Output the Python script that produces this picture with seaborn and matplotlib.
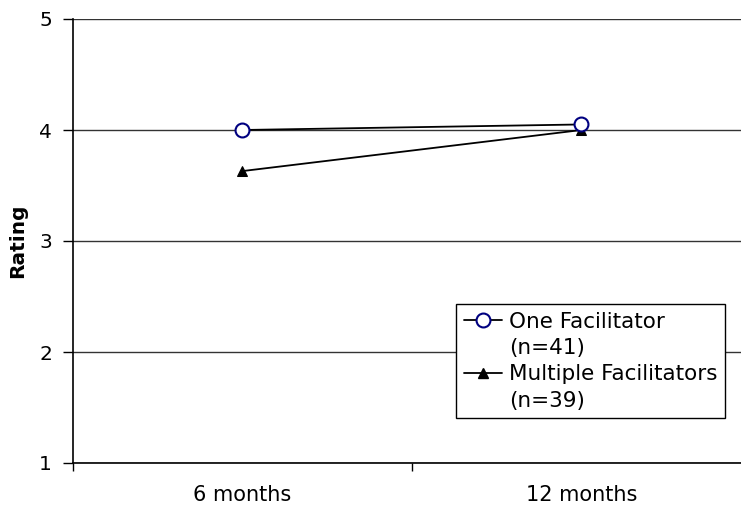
import matplotlib
matplotlib.use("Agg")
import matplotlib.pyplot as plt
from matplotlib.lines import Line2D
import seaborn as sns
import pandas as pd

# Data
timepoints = ["6 months", "12 months"]
one_facilitator = [4.00, 4.05]
multiple_facilitators = [3.63, 4.00]
series_names = ["One Facilitator", "Multiple Facilitators"]
series_n = ["(n=41)", "(n=39)"]
y_ticks = [1, 2, 3, 4, 5]

sns.set_theme(style="white")
plt.rcParams["font.family"] = ["DejaVu Sans"]
plt.rcParams["text.color"] = "black"
plt.rcParams["axes.labelcolor"] = "black"
plt.rcParams["xtick.color"] = "black"
plt.rcParams["ytick.color"] = "black"

df = pd.DataFrame({
    "time": timepoints * 2,
    "rating": one_facilitator + multiple_facilitators,
    "group": [series_names[0]] * 2 + [series_names[1]] * 2,
})

fig = plt.figure(figsize=(7.41, 5.08), dpi=100)
ax = fig.add_axes([73 / 741, 45 / 508, 678 / 741, 444 / 508])

sub1 = df[df["group"] == series_names[0]]
sub2 = df[df["group"] == series_names[1]]
sns.lineplot(data=sub1, x="time", y="rating", ax=ax, color="black", linewidth=1.3,
             marker="o", markersize=10, markerfacecolor="white",
             markeredgecolor="#000080", markeredgewidth=1.5, zorder=4)
sns.lineplot(data=sub2, x="time", y="rating", ax=ax, color="black", linewidth=1.3,
             marker="^", markersize=7.5, markerfacecolor="black",
             markeredgecolor="black", zorder=3)

ax.set_xlim(-0.5, 1.5)
ax.set_ylim(1, 5)
ax.set_yticks(y_ticks)
ax.set_yticklabels([str(v) for v in y_ticks], fontsize=14.5)
ax.yaxis.grid(True, color="#333333", linewidth=1)
ax.set_axisbelow(True)

ax.set_xticks([-0.5, 0.5, 1.5])
ax.set_xticklabels([])
ax.set_xticks([0, 1], minor=True)
ax.set_xticklabels(timepoints, minor=True, fontsize=15)
ax.tick_params(axis="x", which="major", direction="out", length=6, width=1, color="black", bottom=True)
ax.tick_params(axis="x", which="minor", length=0, pad=16, bottom=True, labelcolor="black")
ax.tick_params(axis="y", direction="out", length=7, width=1, color="black", left=True, pad=8,
               labelcolor="black")

for s in ["top", "right"]:
    ax.spines[s].set_visible(False)
for s in ["left", "bottom"]:
    ax.spines[s].set_color("black")
    ax.spines[s].set_linewidth(1.2)

ax.set_xlabel("")
ax.set_ylabel("Rating", fontsize=14.5, fontweight="bold", color="black")
ax.yaxis.set_label_coords(-0.068, 0.5)

blank = Line2D([], [], linestyle="none", marker=None)
h1 = Line2D([], [], color="black", linewidth=1.3, marker="o", markersize=10,
            markerfacecolor="white", markeredgecolor="#000080", markeredgewidth=1.5)
h2 = Line2D([], [], color="black", linewidth=1.3, marker="^", markersize=7.5,
            markerfacecolor="black", markeredgecolor="black")
leg = fig.legend([h1, blank, h2, blank],
                 [series_names[0], series_n[0], series_names[1], series_n[1]],
                 loc="upper left", bbox_to_anchor=(456 / 741, 1 - 304 / 508),
                 bbox_transform=fig.transFigure, borderaxespad=0,
                 fontsize=15.5, frameon=True, fancybox=False, framealpha=1,
                 edgecolor="black", handlelength=1.8, handletextpad=0.3,
                 labelspacing=0.3, borderpad=0.35)
leg.get_frame().set_linewidth(1)
for t in leg.get_texts():
    t.set_color("black")

fig.savefig("out.png", dpi=100)
